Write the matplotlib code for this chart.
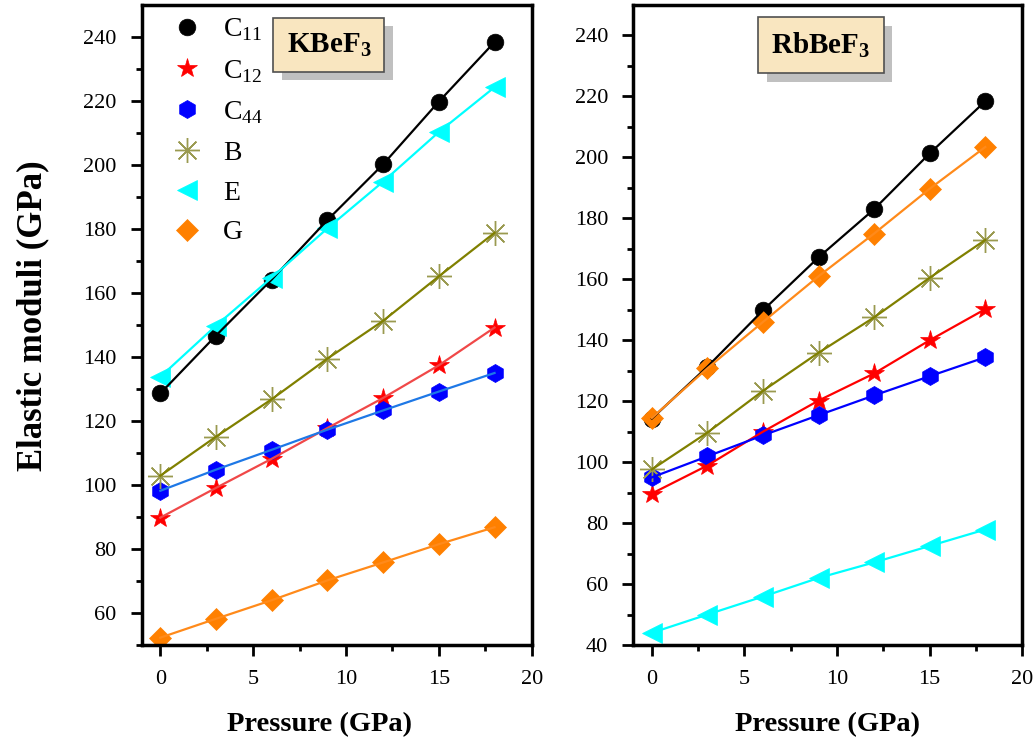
import numpy as np
import matplotlib
matplotlib.use("Agg")
import matplotlib.pyplot as plt
import matplotlib.patheffects as pe

plt.rcParams['font.family'] = ['Liberation Serif', 'DejaVu Serif']
plt.rcParams['mathtext.fontset'] = 'custom'
plt.rcParams['mathtext.rm'] = 'Liberation Serif'
plt.rcParams['mathtext.bf'] = 'Liberation Serif:bold'

# pressure (GPa)
pressure = [0, 3, 6, 9, 12, 15, 18]

# KBeF3
k_c11 = [128.6, 146.7, 164.2, 182.8, 200.2, 219.8, 238.4]
k_c12 = [89.8, 99.1, 108.2, 117.8, 127.2, 137.4, 149.2]
k_c44 = [98.2, 104.8, 111.0, 117.3, 123.3, 129.2, 135.0]
k_b = [102.9, 115.1, 126.8, 139.5, 151.3, 165.2, 178.8]
k_e = [133.8, 149.8, 164.8, 180.2, 194.8, 210.3, 224.3]
k_g = [52.3, 58.2, 64.0, 70.2, 75.8, 81.5, 86.8]

# RbBeF3
r_c11 = [114.3, 131.3, 149.8, 167.2, 183.0, 201.3, 218.4]
r_c12 = [89.7, 98.9, 110.0, 120.2, 129.1, 140.0, 150.2]
r_c44 = [95.0, 101.9, 108.8, 115.4, 121.9, 128.2, 134.4]
r_b = [97.6, 109.7, 123.4, 135.9, 147.5, 160.5, 172.9]
r_e = [44.0, 50.0, 55.9, 62.0, 67.1, 72.5, 77.9]
r_g = [114.5, 130.8, 146.0, 161.0, 175.0, 189.7, 203.4]

labels = ['C$_{11}$', 'C$_{12}$', 'C$_{44}$', 'B', 'E', 'G']
markers = ['o', '*', 'h', (8, 2, 0), '<', 'D']
mk_colors = ['black', 'red', '#0000ff', '#9a9a50', 'cyan', '#ff8000']
mk_sizes = [12, 15, 13, 18, 14, 11]
line_left = ['black', '#f04848', '#1e78e6', '#808000', 'cyan', '#ff8a1a']
line_right = ['black', 'red', '#0000ff', '#808000', 'cyan', '#ff8a1a']

fig = plt.figure(figsize=(10.36, 7.42), dpi=100)
ax1 = fig.add_axes([0.1368, 0.1307, 0.3764, 0.8626])
ax2 = fig.add_axes([0.6113, 0.1307, 0.3755, 0.8626])


def draw(ax, series, line_cols, legend):
    for i, vals in enumerate(series):
        m = markers[i]
        if isinstance(m, tuple):
            ax.plot(pressure, vals, linestyle='none', marker=m, ms=mk_sizes[i],
                    mec=mk_colors[i], mfc='none', mew=1.0, label=labels[i], zorder=2)
        else:
            ax.plot(pressure, vals, linestyle='none', marker=m, ms=mk_sizes[i],
                    mec=mk_colors[i], mfc=mk_colors[i], mew=0.5, label=labels[i], zorder=2)
        ax.plot(pressure, vals, '-', color=line_cols[i], lw=1.6, zorder=3)
    ax.set_xlim(-1, 20)
    ax.set_xticks([0, 5, 10, 15, 20])
    ax.set_xticks(np.arange(-0, 20, 2.5), minor=True)
    ax.tick_params(which='major', direction='out', length=8, width=2,
                   labelsize=16, pad=10)
    ax.tick_params(which='minor', direction='out', length=4, width=2)
    ax.tick_params(top=False, right=False)
    for s in ax.spines.values():
        s.set_linewidth(2.5)
    ax.set_xlabel('Pressure (GPa)', fontsize=20.5, fontweight='bold')
    if legend:
        ax.legend(loc='upper left', frameon=False, fontsize=20, handletextpad=0.7,
                  labelspacing=0.52, borderaxespad=0.2, handlelength=1.2,
                  bbox_to_anchor=(0.03, 1.008))


draw(ax1, [k_c11, k_c12, k_c44, k_b, k_e, k_g], line_left, True)
draw(ax2, [r_c11, r_c12, r_c44, r_b, r_e, r_g], line_right, False)

ax1.set_ylim(50, 250)
ax1.set_yticks(np.arange(60, 241, 20))
ax1.set_yticks(np.arange(50, 250, 10), minor=True)
ax2.set_ylim(40, 250)
ax2.set_yticks(np.arange(40, 241, 20))
ax2.set_yticks(np.arange(50, 250, 20), minor=True)

ax1.xaxis.set_label_coords(0.457, -0.105)
ax2.xaxis.set_label_coords(0.5, -0.105)
ax1.set_ylabel('Elastic moduli (GPa)', fontsize=25, fontweight='bold')
ax1.yaxis.set_label_coords(-0.237, 0.515)


def title_box(ax, x, y, txt):
    t = ax.text(x, y, txt, transform=ax.transAxes, ha='center', va='center',
                fontsize=21, fontweight='bold', zorder=5,
                bbox=dict(boxstyle='square,pad=0.45', fc='#f9e6c0', ec='#505050', lw=1.2))
    t.get_bbox_patch().set_path_effects([
        pe.SimplePatchShadow(offset=(6, -6), shadow_rgbFace='#c0c0c0', alpha=1.0),
        pe.Normal()])


title_box(ax1, 0.48, 0.938, r'KBeF$_\mathbf{3}$')
title_box(ax2, 0.4825, 0.937, r'RbBeF$_\mathbf{3}$')

fig.savefig('out.png', dpi=100)
